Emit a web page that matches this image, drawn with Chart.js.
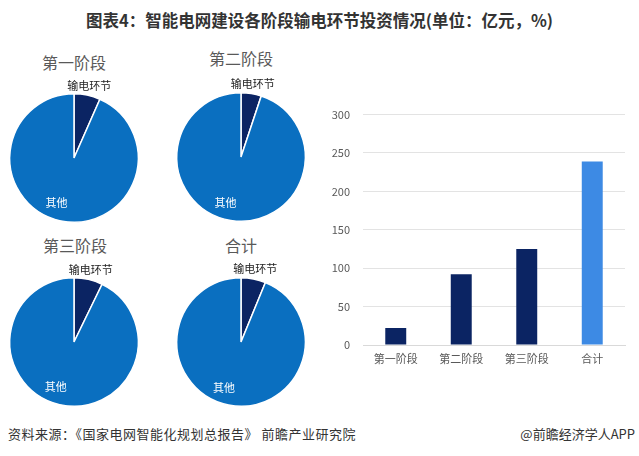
<!DOCTYPE html>
<html><head><meta charset="utf-8">
<script src="https://cdn.jsdelivr.net/npm/chart.js@4/dist/chart.umd.min.js"></script>
<style>
html,body{margin:0;padding:0;background:#fff;}
body{width:639px;height:456px;position:relative;overflow:hidden;font-family:"Noto Sans CJK SC","Noto Sans",sans-serif;}
.abs{position:absolute;}
#title{left:0;width:639px;top:8px;text-align:center;font-size:16.5px;line-height:24px;font-weight:bold;color:#333;}
.pt{font-size:16px;color:#595959;text-align:center;width:120px;line-height:20px;}
#src{left:8px;top:425px;font-size:13px;line-height:18px;color:#333;letter-spacing:0.5px;}
#app{right:4px;top:425px;font-size:13px;line-height:18px;color:#333;}
canvas{position:absolute;}
</style></head>
<body>
<div id="title" class="abs">图表4：智能电网建设各阶段输电环节投资情况(单位：亿元，%)</div>
<div class="abs pt" style="left:14px;top:52px;">第一阶段</div>
<div class="abs pt" style="left:181px;top:48px;">第二阶段</div>
<div class="abs pt" style="left:15px;top:235px;">第三阶段</div>
<div class="abs pt" style="left:181px;top:235px;">合计</div>
<canvas id="p1" style="left:0;top:40px;" width="160" height="190"></canvas>
<canvas id="p2" style="left:160px;top:40px;" width="160" height="190"></canvas>
<canvas id="p3" style="left:0;top:225px;" width="160" height="190"></canvas>
<canvas id="p4" style="left:160px;top:225px;" width="160" height="190"></canvas>
<canvas id="bar" style="left:320px;top:95px;" width="319" height="275"></canvas>
<div id="src" class="abs">资料来源：《国家电网智能化规划总报告》 前瞻产业研究院</div>
<div id="app" class="abs">@前瞻经济学人APP</div>
<script>
// ---- data ----
const stages = ["第一阶段", "第二阶段", "第三阶段", "合计"];
const investment = [22, 92, 125, 239];            // 输电环节投资（亿元）
const pieLabels = ["输电环节", "其他"];
const transShare = [6.6, 5.1, 7.2, 6.2];          // 输电环节占比 %
const otherShare = [93.4, 94.9, 92.8, 93.8];      // 其他占比 %
const yTicks = [0, 50, 100, 150, 200, 250, 300];

const FONT = '"Noto Sans CJK SC","Noto Sans",sans-serif';
const DARK = '#0b2463';
const BLUE = '#0a6fc0';
const LIGHTBLUE = '#3d8ae4';

const pieLabelPlugin = {
  id: 'pieLabels',
  afterDatasetsDraw(chart) {
    const ctx = chart.ctx;
    const meta = chart.getDatasetMeta(0);
    meta.data.forEach((arc, i) => {
      const p = arc.getProps(['x','y','startAngle','endAngle','outerRadius'], true);
      const mid = (p.startAngle + p.endAngle) / 2;
      let r, color;
      if (i === 0) { r = p.outerRadius + 10; color = '#222'; }
      else { r = p.outerRadius * 0.72; color = '#fff'; }
      let x = p.x + Math.cos(mid) * r;
      let y = p.y + Math.sin(mid) * r;
      if (i === 1) { x -= 8; }
      ctx.save();
      ctx.font = '11px ' + FONT;
      ctx.fillStyle = color;
      ctx.textAlign = 'center';
      ctx.textBaseline = 'middle';
      ctx.fillText(chart.data.labels[i], x, y);
      ctx.restore();
    });
  }
};

const piePads = [
  {left:9, right:21, top:53, bottom:7},
  {left:16, right:14, top:52, bottom:8},
  {left:9, right:21, top:52, bottom:8},
  {left:16, right:14, top:52, bottom:8}
];
['p1','p2','p3','p4'].forEach((id, k) => {
  new Chart(document.getElementById(id), {
    type: 'pie',
    data: {
      labels: pieLabels,
      datasets: [{
        data: [transShare[k], otherShare[k]],
        backgroundColor: [DARK, BLUE],
        borderColor: '#fff',
        borderWidth: 1.5
      }]
    },
    options: {
      responsive: false,
      animation: false,
      layout: { padding: piePads[k] },
      plugins: { legend: { display: false }, tooltip: { enabled: false } }
    },
    plugins: [pieLabelPlugin]
  });
});

new Chart(document.getElementById('bar'), {
  type: 'bar',
  data: {
    labels: stages,
    datasets: [{
      data: investment,
      backgroundColor: [DARK, DARK, DARK, LIGHTBLUE],
      categoryPercentage: 1,
      barPercentage: 0.32
    }]
  },
  options: {
    responsive: false,
    animation: false,
    layout: { padding: { left: 0, right: 14, top: 10, bottom: 0 } },
    plugins: { legend: { display: false }, tooltip: { enabled: false } },
    scales: {
      x: {
        grid: { display: false, drawTicks: false },
        border: { display: true, color: '#d9d9d9' },
        ticks: { font: { family: FONT, size: 11 }, color: '#595959', padding: 7 },
        afterFit(s) { s.height = 25; }
      },
      y: {
        min: 0, max: 300,
        afterBuildTicks(s) { s.ticks = yTicks.map(v => ({ value: v })); },
        grid: { color: '#e3e3e3', drawTicks: false },
        border: { display: false },
        ticks: { font: { family: FONT, size: 11 }, color: '#595959', padding: 13 },
        afterFit(s) { s.width = 43; }
      }
    }
  }
});
</script>
</body></html>
